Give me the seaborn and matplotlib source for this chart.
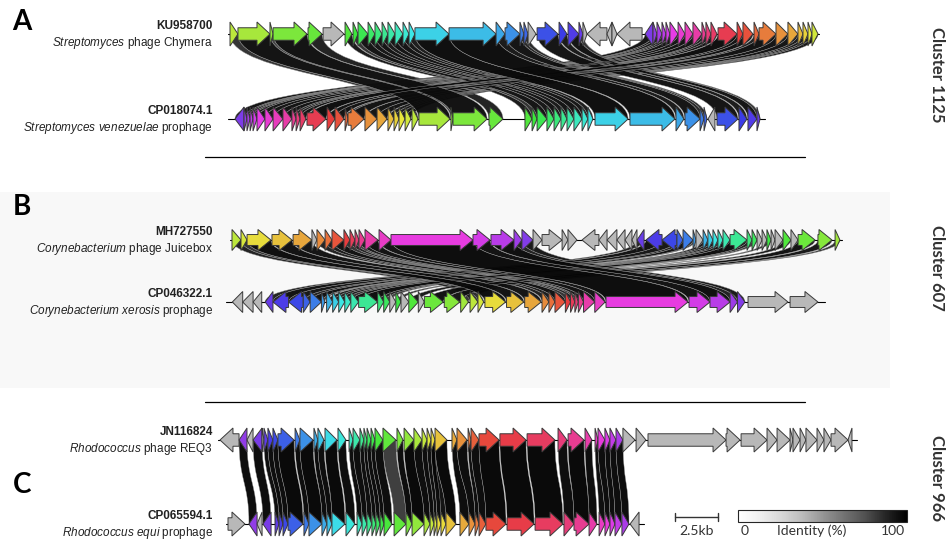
import matplotlib as mpl
import matplotlib.pyplot as plt
from matplotlib.path import Path
from matplotlib.patches import PathPatch, Polygon, Rectangle
import seaborn as sns

# genes: (start kb, end kb, strand)
a_top_genes = [
    (0.00, 0.46, 1), (0.46, 2.31, 1), (2.31, 2.49, 1), (2.49, 4.45, 1), (4.51, 5.32, 1),
    (5.38, 6.59, 1), (6.65, 7.05, 1), (7.11, 7.40, 1), (7.40, 7.98, 1), (7.98, 8.38, 1),
    (8.38, 8.79, 1), (8.79, 9.13, 1), (9.13, 9.54, 1), (9.54, 10.00, 1), (10.00, 10.35, 1),
    (10.35, 10.69, 1), (10.69, 12.66, 1), (12.66, 15.38, 1), (15.38, 15.90, 1), (15.90, 16.76, 1),
    (16.76, 16.99, 1), (16.99, 17.23, 1), (17.23, 17.69, 1), (17.75, 18.96, 1), (19.02, 19.48, 1),
    (19.54, 20.17, 1), (20.17, 20.40, 1), (20.40, 20.64, 1), (20.64, 21.79, -1), (21.79, 22.08, -1),
    (22.08, 22.37, 1), (22.37, 23.82, -1), (23.99, 24.45, -1), (24.45, 24.68, 1), (24.68, 24.97, 1),
    (24.97, 25.20, 1), (25.20, 25.43, 1), (25.43, 25.90, 1), (25.90, 26.30, 1), (26.30, 26.76, 1),
    (26.76, 27.28, 1), (27.28, 27.51, 1), (27.51, 27.80, 1), (27.80, 28.15, 1), (28.21, 29.31, 1),
    (29.31, 29.65, 1), (29.65, 30.23, 1), (30.29, 30.58, 1), (30.58, 31.56, 1), (31.56, 32.25, 1),
    (32.25, 32.83, 1), (32.83, 33.12, 1), (33.12, 33.41, 1), (33.41, 33.64, 1), (33.64, 33.99, 1),
]
# (start kb, end kb, strand, matching top gene, identity %)
a_bot_genes = [
    (0.29, 0.81, -1, 32, 95), (0.81, 0.98, 1, 33, 92), (0.98, 1.16, 1, 34, 92), (1.16, 1.33, 1, 35, 90),
    (1.33, 1.56, 1, 36, 92), (1.56, 2.02, 1, 37, 95), (2.02, 2.49, 1, 38, 95), (2.49, 3.06, 1, 39, 96),
    (3.06, 3.58, 1, 40, 95), (3.58, 3.82, 1, 41, 90), (3.82, 4.05, 1, 42, 92), (4.05, 4.39, 1, 43, 95),
    (4.45, 5.55, 1, 44, 97), (5.61, 6.07, 1, 45, 95), (6.07, 6.59, 1, 46, 96), (6.65, 6.82, 1, 47, 90),
    (6.82, 7.75, 1, 48, 96), (7.80, 8.50, 1, 49, 95), (8.50, 9.08, 1, 50, 95), (9.13, 9.48, 1, 51, 92),
    (9.48, 9.77, 1, 52, 92), (9.77, 10.12, 1, 53, 93), (10.12, 10.46, 1, 54, 94), (10.52, 10.87, 1, 0, 85),
    (10.92, 12.72, 1, 1, 96), (12.77, 12.89, 1, 2, 80), (12.89, 14.86, 1, 3, 96), (14.97, 15.78, 1, 4, 90),
    (17.05, 17.46, 1, 6, 93), (17.46, 17.75, 1, 7, 85), (17.75, 18.32, 1, 8, 95), (18.32, 18.73, 1, 9, 94),
    (18.73, 19.13, 1, 10, 95), (19.13, 19.48, 1, 11, 93), (19.48, 19.88, 1, 12, 95), (19.88, 20.35, 1, 13, 95),
    (20.35, 20.69, 1, 14, 94), (20.69, 20.98, 1, 15, 92), (21.10, 23.01, 1, 16, 97), (23.12, 25.72, 1, 17, 97),
    (25.78, 26.24, 1, 18, 93), (26.30, 27.17, 1, 19, 95), (27.17, 27.40, 1, 20, 88), (27.40, 27.57, 1, 21, 88),
    (27.63, 28.03, -1, -1, 0), (28.15, 29.36, 1, 23, 95), (29.42, 29.88, 1, 24, 93), (29.94, 30.46, 1, 25, 95),
    (30.46, 30.64, 1, 26, 85),
]
a_lengths = [34.05, 30.92]

b_top_genes = [
    (0.00, 0.52, 1), (0.52, 0.87, 1), (0.87, 2.25, 1), (2.31, 3.47, 1), (3.53, 4.62, 1),
    (4.62, 4.91, 1), (4.91, 5.38, 1), (5.38, 5.78, 1), (5.78, 6.47, 1), (6.47, 6.82, 1),
    (6.82, 7.11, 1), (7.11, 7.34, 1), (7.34, 7.69, 1), (7.69, 8.44, 1), (8.50, 9.19, 1),
    (9.19, 13.93, 1), (13.93, 14.91, 1), (14.97, 16.30, 1), (16.30, 16.76, 1), (16.76, 17.40, 1),
    (17.40, 17.92, 1), (17.92, 19.08, 1), (19.08, 19.42, 1), (19.42, 19.94, 1), (20.23, 21.21, -1),
    (21.21, 21.68, -1), (21.68, 22.25, -1), (22.25, 22.72, -1), (22.72, 23.12, -1), (23.12, 23.41, -1),
    (23.41, 23.82, -1), (23.93, 24.86, -1), (24.86, 25.72, -1), (25.72, 26.07, 1), (26.07, 26.65, 1),
    (26.65, 26.82, 1), (26.82, 27.23, 1), (27.23, 27.51, 1), (27.51, 27.80, 1), (27.80, 28.09, 1),
    (28.09, 28.38, 1), (28.38, 28.79, 1), (28.79, 29.77, 1), (29.77, 30.06, 1), (30.06, 30.35, 1),
    (30.35, 30.64, 1), (30.64, 30.92, 1), (30.92, 31.16, 1), (31.16, 31.39, 1), (31.39, 31.85, 1),
    (31.85, 32.31, 1), (32.31, 32.72, 1), (32.72, 33.70, 1), (33.87, 34.68, 1), (34.86, 35.14, 1),
]
b_bot_genes = [
    (0.25, 0.85, -1, -1, 0), (0.85, 1.45, -1, -1, 0), (1.45, 1.95, -1, -1, 0), (2.15, 2.60, -1, 30, 90),
    (2.60, 3.50, -1, 31, 96), (3.50, 4.35, -1, 32, 94), (4.35, 4.75, 1, 33, 90), (4.75, 5.40, 1, 34, 96),
    (5.40, 5.60, 1, 35, 80), (5.70, 6.05, 1, 37, 92), (6.05, 6.40, 1, 38, 90), (6.40, 6.75, 1, 39, 93),
    (6.75, 7.10, 1, 40, 85), (7.10, 7.55, 1, 41, 95), (7.55, 8.65, 1, 42, 97), (8.65, 9.00, 1, 43, 90),
    (9.00, 9.35, 1, 44, 80), (9.35, 9.70, 1, -1, 0), (9.70, 10.00, 1, 47, 85), (10.00, 10.45, 1, -1, 0),
    (10.45, 11.00, 1, 50, 93), (11.00, 11.35, 1, -1, 0), (11.35, 12.45, 1, 52, 96), (12.50, 13.40, 1, 53, 94),
    (13.45, 13.90, 1, 54, 85), (13.99, 14.45, 1, 0, 90), (14.45, 14.78, 1, 1, 85), (14.85, 16.05, 1, 2, 97),
    (16.10, 17.10, 1, 3, 96), (17.15, 18.10, 1, 4, 95), (18.15, 18.55, 1, 6, 90), (18.55, 18.90, 1, 7, 92),
    (18.90, 19.50, 1, 8, 96), (19.50, 19.80, 1, 9, 85), (19.80, 20.05, 1, 10, 90), (20.05, 20.25, 1, 11, 80),
    (20.25, 20.55, 1, 12, 93), (20.55, 21.20, 1, 13, 96), (21.20, 21.80, 1, 14, 95), (21.85, 26.59, 1, 15, 98),
    (26.65, 27.86, 1, 16, 96), (27.86, 29.02, 1, 17, 97), (29.02, 29.45, 1, 18, 90), (29.45, 29.88, 1, 19, 93),
    (30.06, 32.37, 1, -1, 0), (32.49, 34.10, 1, -1, 0),
]
b_lengths = [35.26, 34.5]

c_top_genes = [
    (0.00, 1.10, -1), (1.10, 1.56, -1), (1.56, 1.91, -1), (1.91, 2.43, -1), (2.43, 2.54, 1),
    (2.54, 2.77, 1), (2.77, 3.06, 1), (3.06, 3.35, 1), (3.35, 4.28, 1), (4.34, 4.62, 1),
    (4.62, 5.38, 1), (5.43, 5.66, 1), (5.66, 6.01, 1), (6.07, 6.76, 1), (6.82, 7.28, 1),
    (7.46, 7.69, 1), (7.69, 8.09, 1), (8.09, 8.32, 1), (8.32, 8.50, 1), (8.50, 8.73, 1),
    (8.73, 8.96, 1), (8.96, 9.42, 1), (9.42, 10.17, 1), (10.23, 10.58, 1), (10.64, 11.21, 1),
    (11.21, 11.68, 1), (11.68, 11.97, 1), (11.97, 12.20, 1), (12.20, 12.43, 1), (12.43, 13.12, 1),
    (13.41, 13.70, 1), (13.70, 14.28, 1), (14.34, 14.51, 1), (14.51, 14.97, 1), (14.97, 16.13, 1),
    (16.18, 17.69, 1), (17.75, 19.36, 1), (19.54, 20.06, 1), (20.12, 21.04, 1), (21.10, 21.50, 1),
    (21.68, 21.85, 1), (21.85, 22.25, 1), (22.25, 22.54, 1), (22.54, 22.89, 1), (22.89, 23.29, 1),
    (23.29, 23.99, 1), (24.05, 24.62, 1), (24.74, 29.25, 1), (29.25, 30.06, 1), (30.12, 31.62, 1),
    (31.62, 32.20, 1), (32.20, 32.95, 1), (32.95, 33.12, 1), (33.12, 33.53, 1), (33.53, 33.87, 1),
    (33.87, 34.51, 1), (34.51, 34.91, 1), (34.91, 35.32, 1), (35.32, 36.30, 1), (36.30, 36.53, -1),
]
c_bot_genes = [
    (0.00, 0.98, 1, -1, 0), (1.21, 1.68, -1, 1, 98), (1.68, 1.97, -1, -1, 0), (2.02, 2.49, -1, 3, 98),
    (2.72, 2.95, 1, 5, 97), (2.95, 3.18, 1, 6, 98), (3.18, 3.47, 1, 7, 98), (3.47, 4.34, 1, 8, 99),
    (4.39, 4.68, 1, 9, 98), (4.68, 5.43, 1, 10, 99), (5.43, 5.72, 1, 11, 98), (5.72, 6.01, 1, 12, 98),
    (6.01, 6.76, 1, 13, 99), (6.82, 7.34, 1, 14, 98), (7.46, 7.75, 1, 15, 98), (7.75, 8.03, 1, 16, 98),
    (8.03, 8.32, 1, 17, 97), (8.32, 8.55, 1, 18, 98), (8.55, 8.79, 1, 19, 98), (8.79, 9.02, 1, 20, 98),
    (9.02, 9.48, 1, 21, 98), (9.60, 10.29, 1, 22, 82), (10.29, 10.64, 1, 23, 98), (10.64, 11.33, 1, 24, 99),
    (11.33, 11.68, 1, 25, 98), (11.68, 11.91, 1, 26, 98), (11.91, 12.08, 1, 27, 97), (12.08, 12.31, 1, 28, 98),
    (12.31, 12.60, 1, 28, 96), (12.60, 13.18, 1, 29, 99), (13.41, 13.93, 1, 30, 98), (13.93, 14.28, 1, 31, 98),
    (14.28, 14.51, 1, 32, 97), (14.51, 14.91, 1, 33, 98), (14.91, 16.07, 1, 34, 99), (16.13, 17.69, 1, 35, 99),
    (17.75, 19.36, 1, 36, 99), (19.42, 20.00, 1, 37, 98), (20.00, 20.87, 1, 38, 99), (20.87, 21.33, 1, 39, 98),
    (21.45, 21.79, 1, 40, 97), (21.79, 22.08, 1, 41, 98), (22.08, 22.37, 1, 42, 98), (22.37, 22.77, 1, 43, 98),
    (22.77, 23.18, 1, 44, 98), (23.24, 23.76, -1, -1, 0),
]
c_lengths = [36.82, 24.05]

accessions = [("KU958700", "CP018074.1"), ("MH727550", "CP046322.1"), ("JN116824", "CP065594.1")]
organisms = [
    (r"$\mathit{Streptomyces}$ phage Chymera", r"$\mathit{Streptomyces\ venezuelae}$ prophage"),
    (r"$\mathit{Corynebacterium}$ phage Juicebox", r"$\mathit{Corynebacterium\ xerosis}$ prophage"),
    (r"$\mathit{Rhodococcus}$ phage REQ3", r"$\mathit{Rhodococcus\ equi}$ prophage"),
]
clusters = ["Cluster 1125", "Cluster 607", "Cluster 966"]
scale_kb = 2.5

# ---- layout (pixels of a 951x542 canvas, 17.3 px per kb) ----
PX_KB = 17.3
W, H = 951, 542
panels = [
    dict(top=a_top_genes, bot=a_bot_genes, lengths=a_lengths, y=(34, 119), x0=(230, 230),
         half=12, hue0=75, direction=1, letter_y=22, cluster_y=75),
    dict(top=b_top_genes, bot=b_bot_genes, lengths=b_lengths, y=(240, 302), x0=(232, 228),
         half=10.5, hue0=75, direction=-1, letter_y=207, cluster_y=268),
    dict(top=c_top_genes, bot=c_bot_genes, lengths=c_lengths, y=(440, 524), x0=(220, 228),
         half=12, hue0=270, direction=-1, letter_y=485, cluster_y=478),
]

sns.set_theme(style="white")
plt.rcParams["font.family"] = ["Liberation Sans", "DejaVu Sans"]
plt.rcParams["mathtext.fontset"] = "custom"
plt.rcParams["mathtext.rm"] = "Liberation Sans"
plt.rcParams["mathtext.it"] = "Liberation Sans:italic"

fig = plt.figure(figsize=(W / 100, H / 100), dpi=100)
ax = fig.add_axes([0, 0, 1, 1])
ax.set_xlim(0, W / PX_KB)
ax.set_ylim(H, 0)
ax.axis("off")

cmap = plt.get_cmap("Greys")
gray_gene = "#b8b8b8"


def kb(px):
    return px / PX_KB


def gene_patch(s, e, strand, yc, half, color):
    body = half * 0.52
    head = min(0.75, e - s)
    if strand > 0:
        tail, base, tip = s, e - head, e
    else:
        tail, base, tip = e, s + head, s
    pts = [(tail, yc - body), (base, yc - body), (base, yc - half), (tip, yc),
           (base, yc + half), (base, yc + body), (tail, yc + body)]
    return Polygon(pts, closed=True, facecolor=color, edgecolor="#3a3a3a", lw=0.7, zorder=4)


def ribbon(x1, x2, y1, x3, x4, y2, color):
    ym = (y1 + y2) / 2
    verts = [(x1, y1), (x2, y1), (x2, ym), (x4, ym), (x4, y2), (x3, y2),
             (x3, ym), (x1, ym), (x1, y1)]
    codes = [Path.MOVETO, Path.LINETO, Path.CURVE4, Path.CURVE4, Path.CURVE4,
             Path.LINETO, Path.CURVE4, Path.CURVE4, Path.CURVE4]
    return PathPatch(Path(verts, codes), facecolor=color, edgecolor=(0.6, 0.6, 0.6),
                     lw=0.3, alpha=0.97, zorder=1)


# faint backdrop behind panel B
ax.add_patch(Rectangle((kb(0), 192), kb(890), 196, facecolor="#f8f8f8", edgecolor="none", zorder=0))

for p_i, p in enumerate(panels):
    yt, yb = p["y"]
    ot, ob = kb(p["x0"][0]), kb(p["x0"][1])
    matched = sorted({g[3] for g in p["bot"] if g[3] >= 0})
    n = len(matched)
    pal = sns.hls_palette(n, h=p["hue0"] / 360, l=0.57, s=0.78)
    if p["direction"] < 0:
        pal = [pal[0]] + pal[1:][::-1]
    top_color = {idx: pal[r] for r, idx in enumerate(matched)}

    # links
    links = sorted([g for g in p["bot"] if g[3] >= 0], key=lambda g: g[4])
    for s, e, strand, m, ident in links:
        ts, te, _ = p["top"][m]
        ax.add_patch(ribbon(ot + ts, ot + te, yt, ob + s, ob + e, yb, cmap(ident / 100)))

    # backbones
    ax.plot([ot - 0.1, ot + p["lengths"][0]], [yt, yt], color="black", lw=0.8, zorder=3)
    ax.plot([ob - 0.1, ob + p["lengths"][1]], [yb, yb], color="black", lw=0.8, zorder=3)

    for i, (s, e, strand) in enumerate(p["top"]):
        ax.add_patch(gene_patch(ot + s, ot + e, strand, yt, p["half"], top_color.get(i, gray_gene)))
    for s, e, strand, m, ident in p["bot"]:
        col = top_color[m] if m >= 0 else gray_gene
        ax.add_patch(gene_patch(ob + s, ob + e, strand, yb, p["half"], col))

    # labels
    for y, acc, org in [(yt, accessions[p_i][0], organisms[p_i][0]),
                        (yb, accessions[p_i][1], organisms[p_i][1])]:
        ax.text(kb(213), y - 8, acc, ha="right", va="center", fontsize=8.5, fontweight="bold", color="#222222")
        ax.text(kb(213), y + 9, org, ha="right", va="center", fontsize=8.5, color="#222222")

    ax.text(kb(22), p["letter_y"], "ABC"[p_i], ha="center", va="center", fontsize=20,
            fontweight="bold", family="Lato", color="black")
    ax.text(kb(937), p["cluster_y"], clusters[p_i], ha="center", va="center", rotation=-90,
            fontsize=12, fontweight="bold", family="Lato", color="#333333")

# separators
for y in (157, 402):
    ax.plot([kb(205), kb(805)], [y, y], color="black", lw=0.9)

# scale bar
sx = kb(675)
ax.plot([sx, sx + scale_kb], [517, 517], color="#333333", lw=1)
for x in (sx, sx + scale_kb):
    ax.plot([x, x], [513, 521], color="#333333", lw=1)
ax.text(sx + scale_kb / 2, 531, "2.5kb", ha="center", va="center", fontsize=10, family="Lato", color="#333333")

# identity colour bar
cax = fig.add_axes([738 / W, 1 - 522 / H, 169 / W, 12 / H])
sm = mpl.cm.ScalarMappable(norm=mpl.colors.Normalize(0, 100), cmap=cmap)
cb = fig.colorbar(sm, cax=cax, orientation="horizontal")
cb.set_ticks([])
cb.outline.set_linewidth(0.8)
for x, t in [(745, "0"), (812, "Identity (%)"), (893, "100")]:
    fig.text(x / W, 1 - 531 / H, t, ha="center", va="center", fontsize=10, family="Lato", color="#333333")

fig.savefig("out.png", dpi=100)
